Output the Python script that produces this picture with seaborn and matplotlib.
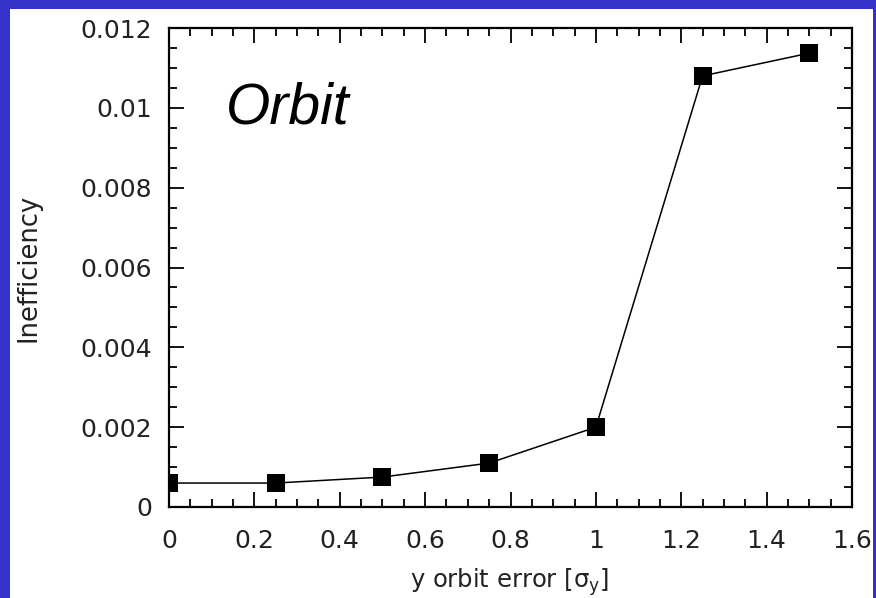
import matplotlib
matplotlib.use("Agg")
import matplotlib.pyplot as plt
from matplotlib.patches import Rectangle
from matplotlib.ticker import MultipleLocator, FixedLocator, FixedFormatter
import seaborn as sns
import pandas as pd

# Orbit error (in units of sigma_y) and the resulting inefficiency
orbit_error = [0.0, 0.25, 0.5, 0.75, 1.0, 1.25, 1.5]
inefficiency = [0.0006, 0.0006, 0.00075, 0.0011, 0.002, 0.0108, 0.01137]

x_ticks = [0, 0.2, 0.4, 0.6, 0.8, 1.0, 1.2, 1.4, 1.6]
x_tick_labels = ["0", "0.2", "0.4", "0.6", "0.8", "1", "1.2", "1.4", "1.6"]
y_ticks = [0, 0.002, 0.004, 0.006, 0.008, 0.010, 0.012]
y_tick_labels = ["0", "0.002", "0.004", "0.006", "0.008", "0.01", "0.012"]

df = pd.DataFrame({"error": orbit_error, "ineff": inefficiency})

sns.set_theme(style="ticks")
plt.rcParams["font.family"] = ["DejaVu Sans"]
plt.rcParams["mathtext.default"] = "regular"

W, H = 876, 598
fig = plt.figure(figsize=(W / 100, H / 100), dpi=100, facecolor="white")
ax = fig.add_axes([169 / W, 1 - 507 / H, (852 - 169) / W, (507 - 28) / H])

sns.lineplot(data=df, x="error", y="ineff", ax=ax, color="black", linewidth=1.1,
             marker="s", markersize=13.5, markerfacecolor="black",
             markeredgecolor="black", markeredgewidth=0)

ax.set_xlim(0, 1.6)
ax.set_ylim(0, 0.012)
ax.xaxis.set_major_locator(FixedLocator(x_ticks))
ax.xaxis.set_major_formatter(FixedFormatter(x_tick_labels))
ax.yaxis.set_major_locator(FixedLocator(y_ticks))
ax.yaxis.set_major_formatter(FixedFormatter(y_tick_labels))
ax.xaxis.set_minor_locator(MultipleLocator(0.05))
ax.yaxis.set_minor_locator(MultipleLocator(0.0005))

ax.tick_params(which="both", direction="in", top=True, right=True,
               width=1.3, colors="black")
ax.tick_params(which="major", length=11)
ax.tick_params(which="minor", length=6)
ax.tick_params(axis="x", which="major", pad=16, labelsize=18)
ax.tick_params(axis="y", which="major", pad=12, labelsize=18)
for t in ax.get_xticklabels() + ax.get_yticklabels():
    t.set_color("#222222")

for s in ax.spines.values():
    s.set_visible(True)
    s.set_linewidth(1.6)
    s.set_color("black")

ax.set_xlabel("y orbit error [σ$_{y}$]", fontsize=17.5, color="#222222")
ax.xaxis.set_label_coords(0.499, -0.124)
ax.set_ylabel("Inefficiency", fontsize=18.5, color="#222222", va="center")
ax.yaxis.set_label_coords(-0.206, 0.5)

fig.text(226 / W, 1 - 123 / H, "Orbit", fontsize=41, style="italic",
         family=["Liberation Sans", "DejaVu Sans"], color="black",
         ha="left", va="baseline")

# blue slide frame around the chart
frame_color = "#3432C8"
for (x0, y0, w, h) in [(0, 0, 10, H), (0, 0, W, 9), (873, 0, 3, H)]:
    fig.add_artist(Rectangle((x0 / W, 1 - (y0 + h) / H), w / W, h / H,
                             transform=fig.transFigure, color=frame_color,
                             zorder=10, linewidth=0))

fig.savefig("out.png", dpi=100, facecolor="white")
